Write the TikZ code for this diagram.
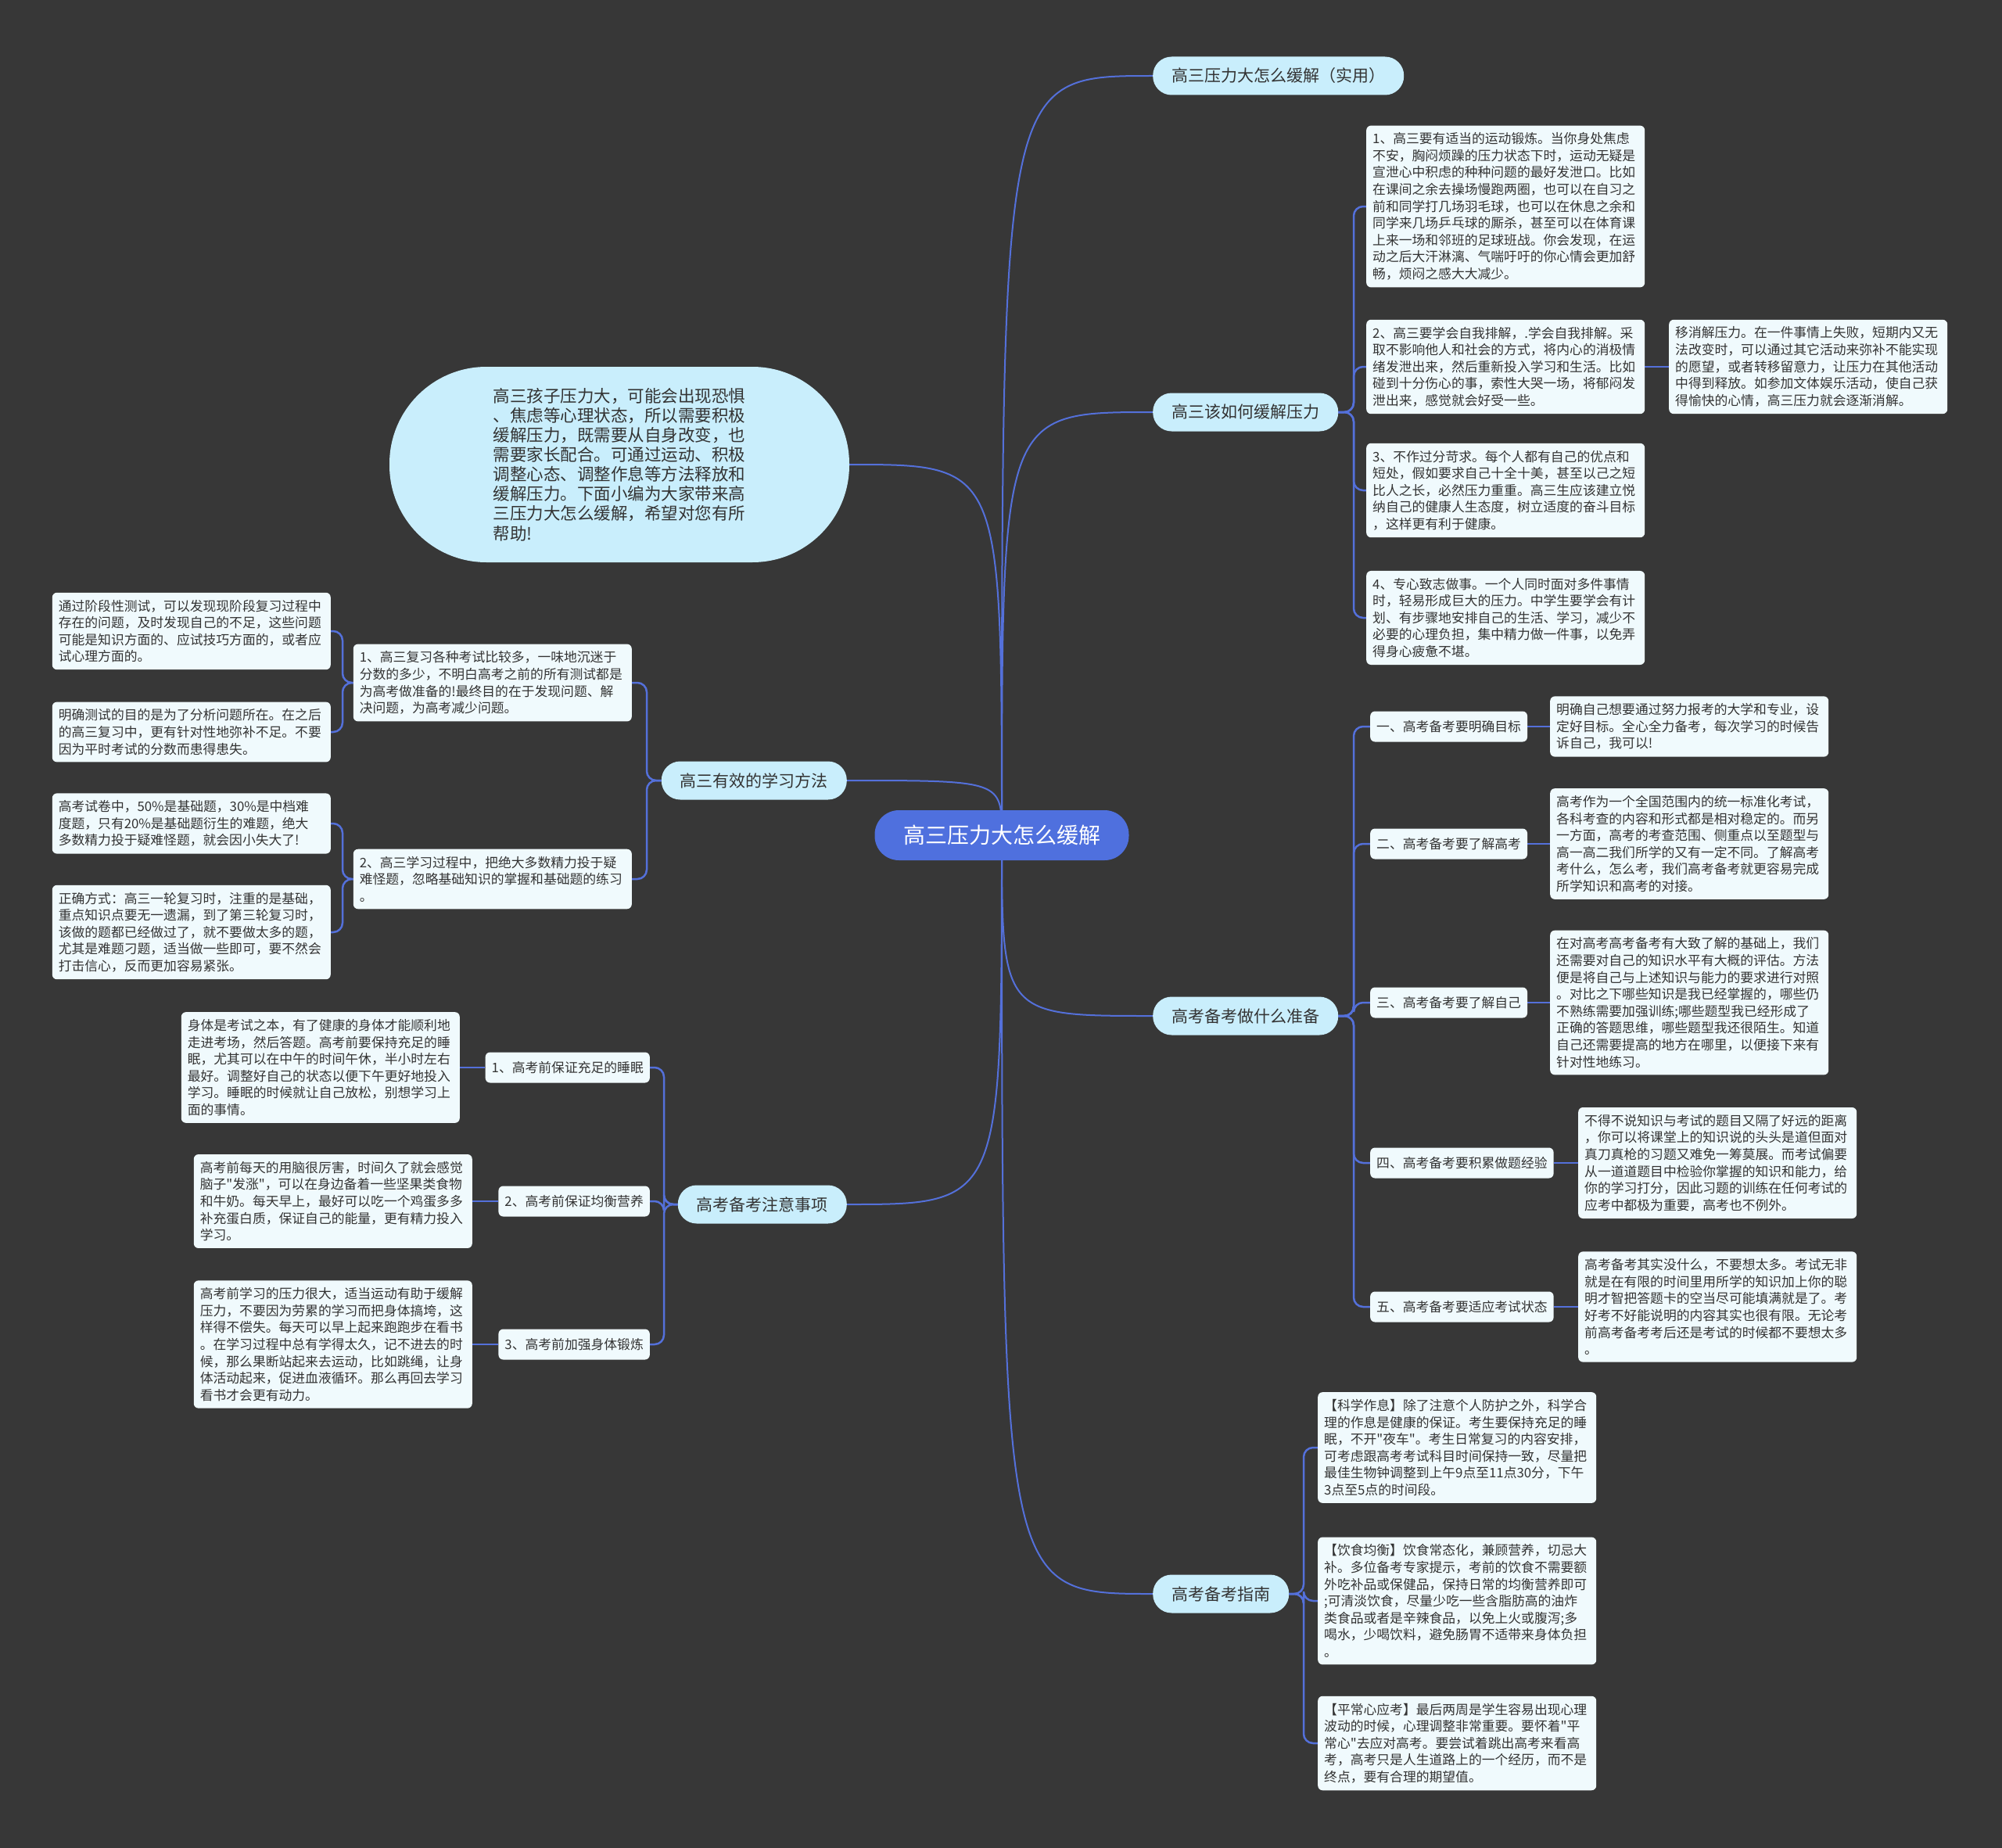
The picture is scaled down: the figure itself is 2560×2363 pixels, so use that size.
\documentclass[tikz,border=0pt]{standalone}
\usepackage{fontspec}
\setmainfont{Noto Sans CJK SC}[Ligatures=TeXOff]
\usetikzlibrary{calc}
\definecolor{bgc}{HTML}{373737}
\definecolor{linec}{HTML}{5470DA}
\definecolor{rootc}{HTML}{4F70DE}
\definecolor{lonec}{HTML}{C9EEFC}
\definecolor{leafc}{HTML}{F0FAFD}
\definecolor{txtc}{HTML}{333333}
\pgfdeclarelayer{bg}
\pgfsetlayers{bg,main}
\begin{document}
\begin{tikzpicture}[x=1pt,y=-1pt,
  root/.style={fill=rootc, text=white, rounded corners=31pt, minimum width=325pt, minimum height=64pt, font=\fontsize{28}{34}\selectfont, inner sep=0pt},
  lone/.style={fill=lonec, text=txtc, rounded corners=24pt, minimum height=49pt, inner xsep=24pt, inner ysep=0pt, font=\fontsize{21}{25}\selectfont},
  leaf/.style={fill=leafc, text=txtc, rounded corners=6pt, text width=340pt, align=left, inner xsep=8pt, inner ysep=9pt, font=\fontsize{16.8}{21.6}\selectfont},
  lab/.style={fill=leafc, text=txtc, rounded corners=6pt, minimum height=39pt, inner xsep=8pt, inner ysep=0pt, font=\fontsize{16.8}{21.6}\selectfont},
  intro/.style={fill=lonec, text=txtc, rounded corners=124pt, minimum width=588pt, minimum height=250pt, align=left, font=\fontsize{21.5}{25.1}\selectfont},
  mc/.style={draw=linec, line width=2pt},
  bc/.style={draw=linec, line width=2.5pt, rounded corners=12pt}
]
\useasboundingbox (0,0) rectangle (2560,2363);

% root
\node[root] (M) at (1281,1068) {高三压力大怎么缓解};

% level 1
\node[lone, anchor=west] (A) at (1474,97) {高三压力大怎么缓解（实用）};
\node[lone, anchor=west] (B) at (1474,527) {高三该如何缓解压力};
\node[lone, anchor=west] (C) at (1474,1299) {高考备考做什么准备};
\node[lone, anchor=west] (D) at (1474,2038) {高考备考指南};
\node[intro] (E) at (792,594) {高三孩子压力大，可能会出现恐惧\\、焦虑等心理状态，所以需要积极\\缓解压力，既需要从自身改变，也\\需要家长配合。可通过运动、积极\\调整心态、调整作息等方法释放和\\缓解压力。下面小编为大家带来高\\三压力大怎么缓解，希望对您有所\\帮助!};
\node[lone, anchor=east] (F) at (1083,998) {高三有效的学习方法};
\node[lone, anchor=east] (G) at (1083,1540) {高考备考注意事项};

% B group
\node[leaf, anchor=west] (B1) at (1747,264) {1、高三要有适当的运动锻炼。当你身处焦虑\\不安，胸闷烦躁的压力状态下时，运动无疑是\\宣泄心中积虑的种种问题的最好发泄口。比如\\在课间之余去操场慢跑两圈，也可以在自习之\\前和同学打几场羽毛球，也可以在休息之余和\\同学来几场乒乓球的厮杀，甚至可以在体育课\\上来一场和邻班的足球班战。你会发现，在运\\动之后大汗淋漓、气喘吁吁的你心情会更加舒\\畅，烦闷之感大大减少。};
\node[leaf, anchor=west] (B2) at (1747,469) {2、高三要学会自我排解，.学会自我排解。采\\取不影响他人和社会的方式，将内心的消极情\\绪发泄出来，然后重新投入学习和生活。比如\\碰到十分伤心的事，索性大哭一场，将郁闷发\\泄出来，感觉就会好受一些。};
\node[leaf, anchor=west] (B2a) at (2134,469) {移消解压力。在一件事情上失败，短期内又无\\法改变时，可以通过其它活动来弥补不能实现\\的愿望，或者转移留意力，让压力在其他活动\\中得到释放。如参加文体娱乐活动，使自己获\\得愉快的心情，高三压力就会逐渐消解。};
\node[leaf, anchor=west] (B3) at (1747,627) {3、不作过分苛求。每个人都有自己的优点和\\短处，假如要求自己十全十美，甚至以己之短\\比人之长，必然压力重重。高三生应该建立悦\\纳自己的健康人生态度，树立适度的奋斗目标\\，这样更有利于健康。};
\node[leaf, anchor=west] (B4) at (1747,790) {4、专心致志做事。一个人同时面对多件事情\\时，轻易形成巨大的压力。中学生要学会有计\\划、有步骤地安排自己的生活、学习，减少不\\必要的心理负担，集中精力做一件事，以免弄\\得身心疲惫不堪。};

% C group
\node[lab, anchor=west] (C1) at (1752,929) {一、高考备考要明确目标};
\node[lab, anchor=west] (C2) at (1752,1079) {二、高考备考要了解高考};
\node[lab, anchor=west] (C3) at (1752,1282) {三、高考备考要了解自己};
\node[lab, anchor=west] (C4) at (1752,1487) {四、高考备考要积累做题经验};
\node[lab, anchor=west] (C5) at (1752,1671) {五、高考备考要适应考试状态};
\node[leaf, anchor=west] (C1a) at (1982,929) {明确自己想要通过努力报考的大学和专业，设\\定好目标。全心全力备考，每次学习的时候告\\诉自己，我可以!};
\node[leaf, anchor=west] (C2a) at (1982,1079) {高考作为一个全国范围内的统一标准化考试，\\各科考查的内容和形式都是相对稳定的。而另\\一方面，高考的考查范围、侧重点以至题型与\\高一高二我们所学的又有一定不同。了解高考\\考什么，怎么考，我们高考备考就更容易完成\\所学知识和高考的对接。};
\node[leaf, anchor=west] (C3a) at (1982,1282) {在对高考高考备考有大致了解的基础上，我们\\还需要对自己的知识水平有大概的评估。方法\\便是将自己与上述知识与能力的要求进行对照\\。对比之下哪些知识是我已经掌握的，哪些仍\\不熟练需要加强训练;哪些题型我已经形成了\\正确的答题思维，哪些题型我还很陌生。知道\\自己还需要提高的地方在哪里，以便接下来有\\针对性地练习。};
\node[leaf, anchor=west] (C4a) at (2018,1487) {不得不说知识与考试的题目又隔了好远的距离\\，你可以将课堂上的知识说的头头是道但面对\\真刀真枪的习题又难免一筹莫展。而考试偏要\\从一道道题目中检验你掌握的知识和能力，给\\你的学习打分，因此习题的训练在任何考试的\\应考中都极为重要，高考也不例外。};
\node[leaf, anchor=west] (C5a) at (2018,1671) {高考备考其实没什么，不要想太多。考试无非\\就是在有限的时间里用所学的知识加上你的聪\\明才智把答题卡的空当尽可能填满就是了。考\\好考不好能说明的内容其实也很有限。无论考\\前高考备考考后还是考试的时候都不要想太多\\。};

% D group
\node[leaf, anchor=west] (D1) at (1685,1851) {【科学作息】除了注意个人防护之外，科学合\\理的作息是健康的保证。考生要保持充足的睡\\眠，不开"夜车"。考生日常复习的内容安排，\\可考虑跟高考考试科目时间保持一致，尽量把\\最佳生物钟调整到上午9点至11点30分，下午\\3点至5点的时间段。};
\node[leaf, anchor=west] (D2) at (1685,2047) {【饮食均衡】饮食常态化，兼顾营养，切忌大\\补。多位备考专家提示，考前的饮食不需要额\\外吃补品或保健品，保持日常的均衡营养即可\\;可清淡饮食，尽量少吃一些含脂肪高的油炸\\类食品或者是辛辣食品，以免上火或腹泻;多\\喝水，少喝饮料，避免肠胃不适带来身体负担\\。};
\node[leaf, anchor=west] (D3) at (1685,2229) {【平常心应考】最后两周是学生容易出现心理\\波动的时候，心理调整非常重要。要怀着"平\\常心"去应对高考。要尝试着跳出高考来看高\\考，高考只是人生道路上的一个经历，而不是\\终点，要有合理的期望值。};

% F group
\node[leaf, anchor=east] (F1) at (808,873) {1、高三复习各种考试比较多，一味地沉迷于\\分数的多少，不明白高考之前的所有测试都是\\为高考做准备的!最终目的在于发现问题、解\\决问题，为高考减少问题。};
\node[leaf, anchor=east] (F2) at (808,1124) {2、高三学习过程中，把绝大多数精力投于疑\\难怪题，忽略基础知识的掌握和基础题的练习\\。};
\node[leaf, anchor=east] (F1a) at (423,807) {通过阶段性测试，可以发现现阶段复习过程中\\存在的问题，及时发现自己的不足，这些问题\\可能是知识方面的、应试技巧方面的，或者应\\试心理方面的。};
\node[leaf, anchor=east] (F1b) at (423,936) {明确测试的目的是为了分析问题所在。在之后\\的高三复习中，更有针对性地弥补不足。不要\\因为平时考试的分数而患得患失。};
\node[leaf, anchor=east] (F2a) at (423,1053) {高考试卷中，50\%是基础题，30\%是中档难\\度题，只有20\%是基础题衍生的难题，绝大\\多数精力投于疑难怪题，就会因小失大了!};
\node[leaf, anchor=east] (F2b) at (423,1192) {正确方式：高三一轮复习时，注重的是基础，\\重点知识点要无一遗漏，到了第三轮复习时，\\该做的题都已经做过了，就不要做太多的题，\\尤其是难题刁题，适当做一些即可，要不然会\\打击信心，反而更加容易紧张。};

% G group
\node[lab, anchor=east] (G1) at (831,1365) {1、高考前保证充足的睡眠};
\node[lab, anchor=east] (G2) at (831,1536) {2、高考前保证均衡营养};
\node[lab, anchor=east] (G3) at (831,1719) {3、高考前加强身体锻炼};
\node[leaf, anchor=east] (G1a) at (588,1365) {身体是考试之本，有了健康的身体才能顺利地\\走进考场，然后答题。高考前要保持充足的睡\\眠，尤其可以在中午的时间午休，半小时左右\\最好。调整好自己的状态以便下午更好地投入\\学习。睡眠的时候就让自己放松，别想学习上\\面的事情。};
\node[leaf, anchor=east] (G2a) at (604,1536) {高考前每天的用脑很厉害，时间久了就会感觉\\脑子"发涨"，可以在身边备着一些坚果类食物\\和牛奶。每天早上，最好可以吃一个鸡蛋多多\\补充蛋白质，保证自己的能量，更有精力投入\\学习。};
\node[leaf, anchor=east] (G3a) at (604,1719) {高考前学习的压力很大，适当运动有助于缓解\\压力，不要因为劳累的学习而把身体搞垮，这\\样得不偿失。每天可以早上起来跑跑步在看书\\。在学习过程中总有学得太久，记不进去的时\\候，那么果断站起来去运动，比如跳绳，让身\\体活动起来，促进血液循环。那么再回去学习\\看书才会更有动力。};

% bracket x positions
\coordinate (bB) at (1731,0);
\coordinate (bC) at (1731,0);
\coordinate (bD) at (1667,0);
\coordinate (bF) at (827,0);
\coordinate (bF1) at (438,0);
\coordinate (bG) at (849,0);

\begin{pgfonlayer}{bg}
\fill[bgc] (0,0) rectangle (2560,2363);
% main curves
\foreach \t in {A,B,C,D}
  \draw[mc] (M.center) .. controls (M.center |- \t.west) .. (\t.west);
\draw[mc] (M.center) .. controls (M.center |- E.east) .. (E.east);
\foreach \t in {F,G}
  \draw[mc] (M.center) .. controls (M.center |- \t.east) .. (\t.east);
% right brackets
\foreach \c in {B1,B2,B3,B4}
  \draw[bc] (B.east) -- (B.east -| bB) |- (\c.west);
\draw[bc] (B2.east) -- (B2a.west);
\foreach \c in {C1,C2,C3,C4,C5}
  \draw[bc] (C.east) -- (C.east -| bC) |- (\c.west);
\foreach \c in {C1,C2,C3,C4,C5}
  \draw[bc] (\c.east) -- (\c a.west);
\foreach \c in {D1,D2,D3}
  \draw[bc] (D.east) -- (D.east -| bD) |- (\c.west);
% left brackets
\foreach \c in {F1,F2}
  \draw[bc] (F.west) -- (F.west -| bF) |- (\c.east);
\foreach \c in {F1a,F1b}
  \draw[bc] (F1.west) -- (F1.west -| bF1) |- (\c.east);
\foreach \c in {F2a,F2b}
  \draw[bc] (F2.west) -- (F2.west -| bF1) |- (\c.east);
\foreach \c in {G1,G2,G3}
  \draw[bc] (G.west) -- (G.west -| bG) |- (\c.east);
\foreach \c in {G1,G2,G3}
  \draw[bc] (\c.west) -- (\c a.east);
\end{pgfonlayer}
\end{tikzpicture}
\end{document}
